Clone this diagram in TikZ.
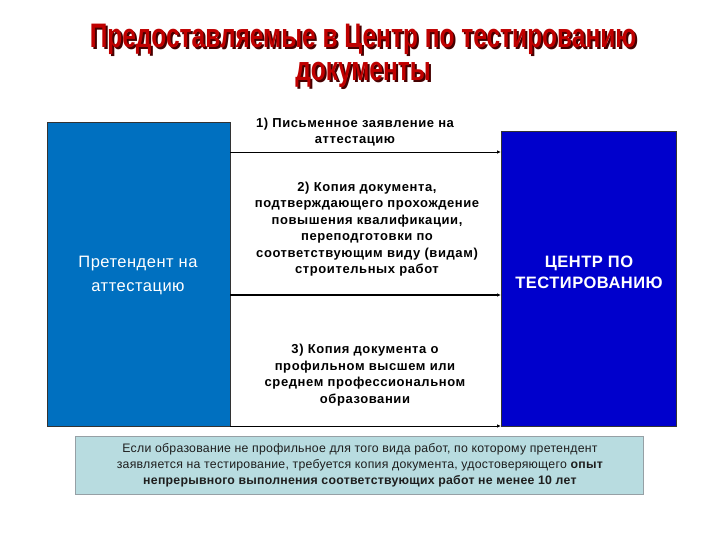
\documentclass[tikz,border=0pt]{standalone}
\usepackage{fontspec}
\usepackage{graphicx}
\setmainfont{Liberation Sans}
\newfontfamily\widefont[LetterSpace=4.5]{Liberation Sans}
\newfontfamily\notefont[LetterSpace=2]{Liberation Sans}
\newfontfamily\boxfont[LetterSpace=3]{Liberation Sans}
\usetikzlibrary{arrows.meta}
\definecolor{lblue}{RGB}{0,112,192}
\definecolor{dblue}{RGB}{0,0,204}
\definecolor{ttlred}{RGB}{192,0,0}
\definecolor{ttlshadow}{RGB}{70,0,0}
\definecolor{notefill}{RGB}{184,220,224}
\definecolor{notedraw}{RGB}{150,160,165}
\definecolor{notetext}{RGB}{30,30,30}
\newcommand{\shadowed}[1]{\rlap{\kern2pt\raisebox{-2pt}{\textcolor{ttlshadow}{\scalebox{0.72}[1]{#1}}}}\textcolor{ttlred}{\scalebox{0.72}[1]{#1}}}
\begin{document}
\begin{tikzpicture}[x=1pt,y=-1pt,
  bigbox/.style={draw=black!80,line width=0.6pt,anchor=north west,inner sep=0pt},
  boxtext/.style={text=white,align=center,font=\boxfont\fontsize{16.5}{24}\selectfont},
  doctext/.style={align=center,font=\widefont\bfseries\fontsize{13}{16.5}\selectfont},
  link/.style={draw=black,line width=0.9pt,-{Latex[length=4pt,width=3.5pt]}},
  ttl/.style={align=center,font=\bfseries\fontsize{34}{33}\selectfont}]
\useasboundingbox (0,0) rectangle (720,540);
\fill[white] (0,0) rectangle (720,540);
% title
\node[ttl] (ttl) at (363,57) {\shadowed{Предоставляемые в Центр по тестированию}\\\shadowed{документы}};
% boxes
\node[bigbox,fill=lblue,minimum width=183pt,minimum height=304pt] (L) at (47,122) {};
\node[boxtext] (Ltext) at (138,275) {Претендент на\\аттестацию};
\node[bigbox,fill=dblue,minimum width=175pt,minimum height=295pt] (R) at (501,131) {};
\node[boxtext,font=\boxfont\bfseries\fontsize{16.5}{21}\selectfont] (Rtext) at (589,272) {ЦЕНТР ПО\\ТЕСТИРОВАНИЮ};
% connectors
\coordinate (a1) at (230,152);
\coordinate (a2) at (230,295);
\coordinate (a3) at (230,426);
\draw[link] (a1) -- (R.west |- a1);
\draw[link,line width=1.3pt] (a2) -- (R.west |- a2);
\draw[link] (a3) -- (R.west |- a3);
% document labels
\node[doctext] (d1) at (355,132) {1) Письменное заявление на\\аттестацию};
\node[doctext] (d2) at (367,229) {2) Копия документа,\\подтверждающего прохождение\\повышения квалификации,\\переподготовки по\\соответствующим виду (видам)\\строительных работ};
\node[doctext] (d3) at (365,375) {3) Копия документа о\\профильном высшем или\\среднем профессиональном\\образовании};
% note
\node[draw=notedraw,line width=1pt,fill=notefill,anchor=north west,minimum width=568pt,minimum height=58pt,inner sep=0pt] (N) at (75,436) {};
\node[align=center,text=notetext,font=\notefont\fontsize{12.3}{16}\selectfont] (Ntext) at (360,465) {Если образование не профильное для того вида работ, по которому претендент\\заявляется на тестирование, требуется копия документа, удостоверяющего \textbf{опыт}\\\textbf{непрерывного выполнения соответствующих работ не менее 10 лет}};
\end{tikzpicture}
\end{document}
